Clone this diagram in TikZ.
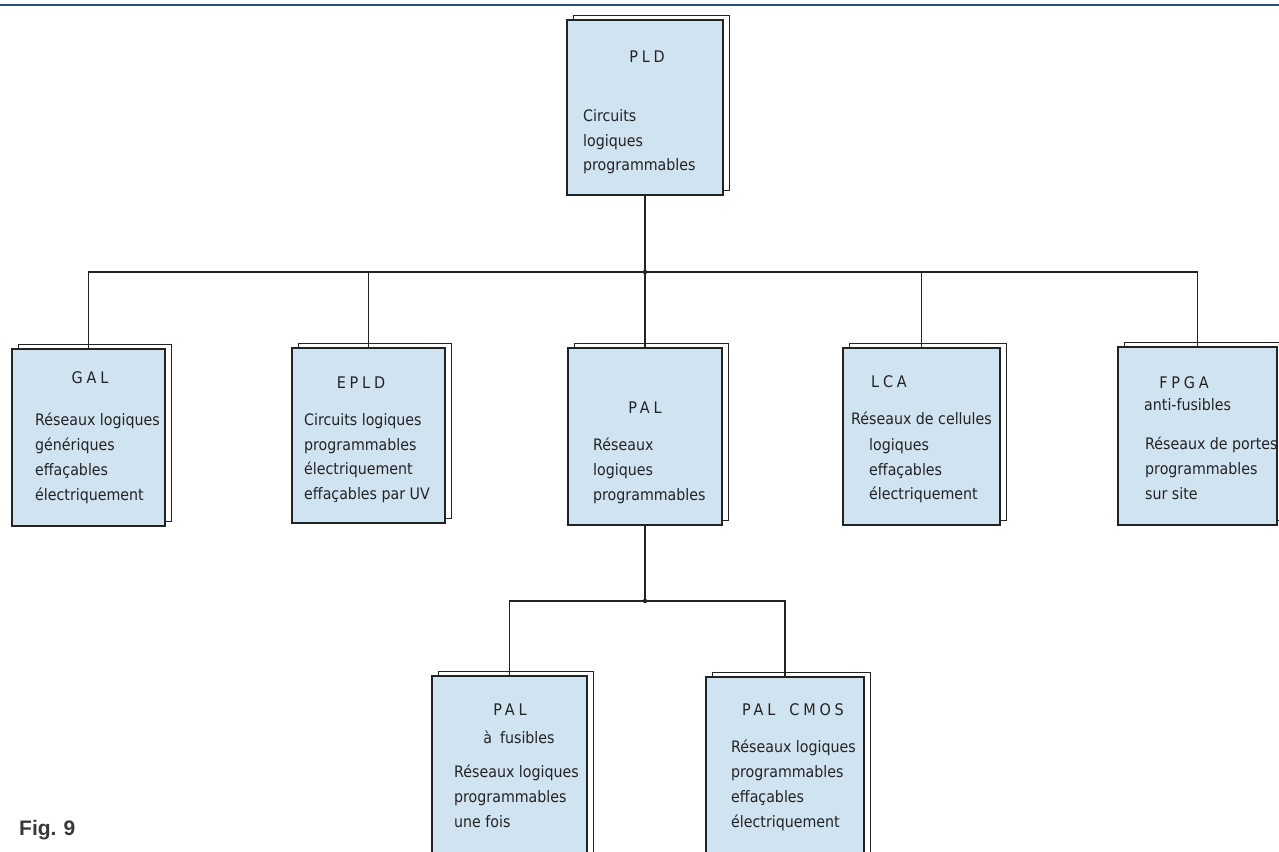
\documentclass[tikz,border=0pt]{standalone}
\usepackage{fontspec}
\setmainfont{DejaVu Sans Condensed}
\newfontfamily\figfont{Liberation Sans}
\usetikzlibrary{shadows}
\definecolor{bleuboite}{RGB}{207,227,241}
\definecolor{bleufilet}{RGB}{38,82,135}
\definecolor{trait}{RGB}{35,35,35}
\tikzset{
  boite/.style={draw=trait, line width=2.2pt, fill=bleuboite, inner sep=0pt,
    copy shadow={shadow xshift=6pt, shadow yshift=5pt, draw=trait, line width=0.7pt, fill=white}},
  titre/.style={font=\fontsize{16}{16}\selectfont\addfontfeature{LetterSpace=24}, text=trait},
  texte/.style={font=\fontsize{15.8}{24.8}\selectfont, align=left, anchor=north west, inner sep=0pt, text=trait},
  liaison/.style={draw=trait, line width=1.3pt},
  jonction/.style={circle, fill=trait, inner sep=0pt, minimum size=4.5pt}
}
\begin{document}
\begin{tikzpicture}[x=1pt,y=-1pt]
        \useasboundingbox (0,0) rectangle (1279,851);
        % Filet bleu en haut
        \draw[bleufilet, line width=2.5pt] (0,5) -- (1279,5);

        % Boites
        \node[boite, minimum width=156pt, minimum height=175pt] (pld) at (645,107.5) {};
        \node[boite, minimum width=153pt, minimum height=177pt] (gal) at (88.5,437.5) {};
        \node[boite, minimum width=153pt, minimum height=175pt] (epld) at (368.5,435.5) {};
        \node[boite, minimum width=154pt, minimum height=177pt] (pal) at (645,436.5) {};
        \node[boite, minimum width=157pt, minimum height=177pt] (lca) at (921.5,436.5) {};
        \node[boite, minimum width=159pt, minimum height=178pt] (fpga) at (1197.5,436) {};
        \node[boite, minimum width=155pt, minimum height=194pt] (palfus) at (509.5,773) {};
        \node[boite, minimum width=158pt, minimum height=193pt] (palcmos) at (785,773.5) {};

        % Liaisons
        \coordinate (j1) at (645,272);
        \coordinate (j2) at (645,601);
        \draw[liaison] (pld.south) -- (j1);
        \foreach \b in {gal,epld,pal,lca,fpga}
          \draw[liaison] (j1) -| (\b.north);
        \draw[liaison] (pal.south) -- (j2);
        \foreach \b in {palfus,palcmos}
          \draw[liaison] (j2) -| (\b.north);
        \node[jonction] (pj1) at (j1) {};
        \node[jonction] (pj2) at (j2) {};

        % Textes
        \node[titre] (pld-t) at (647,57) {PLD};
        \node[texte] (pld-c) at (583,109) {Circuits\\logiques\\programmables};

        \node[titre] (gal-t) at (90,378) {GAL};
        \node[texte] (gal-c) at (35,413) {Réseaux logiques\\génériques\\effaçables\\électriquement};

        \node[titre] (epld-t) at (361,383) {EPLD};
        \node[texte] (epld-c) at (304,413) {Circuits logiques\\programmables\\électriquement\\effaçables par UV};

        \node[titre] (pal-t) at (645,408) {PAL};
        \node[texte] (pal-c) at (593,438) {Réseaux\\logiques\\programmables};

        \node[titre] (lca-t) at (889,382) {LCA};
        \node[texte] (lca-a) at (851,412) {Réseaux de cellules};
        \node[texte] (lca-c) at (869,438) {logiques\\effaçables\\électriquement};

        \node[titre] (fpga-t) at (1184,383) {FPGA};
        \node[texte] (fpga-a) at (1144,398) {anti-fusibles};
        \node[texte] (fpga-c) at (1145,437) {Réseaux de portes\\programmables\\sur site};

        \node[titre] (palfus-t) at (510,710) {PAL};
        \node[texte, anchor=center] (palfus-a) at (519,737) {à\hspace{8pt}fusibles};
        \node[texte] (palfus-c) at (454,765) {Réseaux logiques\\programmables\\une fois};

        \node[titre] (palcmos-t) at (793,710) {PAL\hspace{14pt}CMOS};
        \node[texte] (palcmos-c) at (731,740) {Réseaux logiques\\programmables\\effaçables\\électriquement};

        % Legende
        \node[anchor=west, inner sep=0pt, text=trait!90, font=\figfont\bfseries\fontsize{21}{21}\selectfont] (fig) at (19,830) {Fig.\hspace{7pt}9};
    \end{tikzpicture}
\end{document}
